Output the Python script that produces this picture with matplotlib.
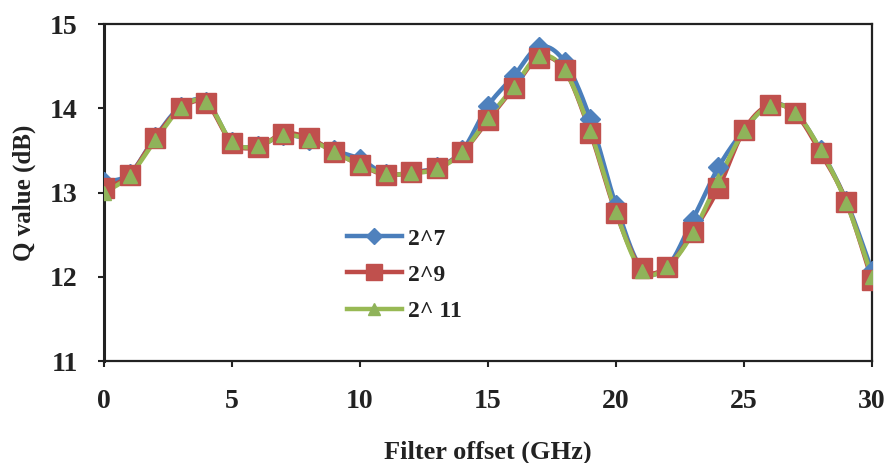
import matplotlib
matplotlib.use('Agg')
import matplotlib.pyplot as plt
from matplotlib.lines import Line2D
import numpy as np

# Filter offset sweep (GHz)
offset = list(range(0, 31))

# Q value (dB) for each bit resolution
q_2_7 = [13.13, 13.22, 13.66, 14.02, 14.08, 13.60, 13.55, 13.68, 13.63, 13.50,
         13.40, 13.22, 13.24, 13.30, 13.50, 14.03, 14.38, 14.73, 14.55, 13.87,
         12.85, 12.10, 12.12, 12.68, 13.30, 13.74, 14.04, 13.95, 13.50, 12.90,
         12.07]
q_2_9 = [13.05, 13.21, 13.65, 14.00, 14.06, 13.59, 13.54, 13.70, 13.65, 13.48,
         13.33, 13.21, 13.24, 13.29, 13.48, 13.86, 14.24, 14.60, 14.45, 13.71,
         12.76, 12.10, 12.12, 12.53, 13.05, 13.74, 14.04, 13.94, 13.47, 12.89,
         11.96]
q_2_11 = [13.00, 13.20, 13.62, 14.00, 14.08, 13.60, 13.55, 13.68, 13.63, 13.48,
          13.33, 13.22, 13.23, 13.28, 13.48, 13.88, 14.25, 14.62, 14.45, 13.73,
          12.77, 12.07, 12.12, 12.52, 13.15, 13.73, 14.03, 13.95, 13.50, 12.88,
          12.00]

labels = ['2^7', '2^9', '2^ 11']
x_ticks = [0, 5, 10, 15, 20, 25, 30]
y_ticks = [11, 12, 13, 14, 15]

FONT = 'Liberation Serif'


def smooth(x, y, n=24):
    """Catmull-Rom style cubic Bezier through every point (spreadsheet 'smoothed line')."""
    pts = np.column_stack([x, y]).astype(float)
    p = np.vstack([pts[0], pts, pts[-1]])
    t = np.linspace(0, 1, n)[:, None]
    out = []
    for i in range(1, len(p) - 2):
        p0, p1, p2, p3 = p[i - 1], p[i], p[i + 1], p[i + 2]
        c1 = p1 + (p2 - p0) / 6
        c2 = p2 - (p3 - p1) / 6
        seg = (1 - t) ** 3 * p1 + 3 * (1 - t) ** 2 * t * c1 + 3 * (1 - t) * t ** 2 * c2 + t ** 3 * p2
        out.append(seg if i == 1 else seg[1:])
    curve = np.vstack(out)
    return curve[:, 0], curve[:, 1]


fig = plt.figure(figsize=(8.85, 4.63), dpi=100)
ax = fig.add_axes([0.1175, 0.22, 0.8678, 0.728])

styles = [
    # line colour, marker colour, marker, marker size
    ('#4A7EBB', '#4F81BD', 'D', 10),
    ('#BE4B48', '#C0504D', 's', 14),
    ('#98B954', '#8FB35A', '^', 10),
]
series = [q_2_7, q_2_9, q_2_11]

handles = []
for values, (lc, mc, mk, ms), label in zip(series, styles, labels):
    sx, sy = smooth(offset, values)
    ax.plot(sx, sy, color=lc, linewidth=3.2, solid_capstyle='round', zorder=2)
    ax.plot(offset, values, linestyle='none', marker=mk, markersize=ms,
            markerfacecolor=mc, markeredgecolor=mc, zorder=3)
    handles.append(Line2D([], [], color=lc, linewidth=3.2, marker=mk,
                          markersize=ms * 0.85, markerfacecolor=mc,
                          markeredgecolor=mc))

ax.set_xlim(0, 30)
ax.set_ylim(11, 15)
ax.set_xticks(x_ticks)
ax.set_yticks(y_ticks)

for side in ['top', 'right', 'bottom']:
    ax.spines[side].set_linewidth(1.6)
    ax.spines[side].set_color('#222222')
ax.spines['left'].set_linewidth(2.2)
ax.spines['left'].set_color('#222222')

ax.tick_params(axis='y', direction='out', length=4, width=1.5, pad=15,
               colors='#222222', labelsize=20)
ax.tick_params(axis='x', direction='out', length=4, width=1.5, pad=16,
               colors='#222222', labelsize=20)
for lbl in ax.get_xticklabels() + ax.get_yticklabels():
    lbl.set_fontfamily(FONT)
    lbl.set_fontweight('bold')

ax.set_xlabel('Filter offset (GHz)', fontsize=19, fontweight='bold',
              family=FONT, color='#222222', va='center')
ax.set_ylabel('Q value (dB)', fontsize=18, fontweight='bold',
              family=FONT, color='#222222', va='center')
ax.xaxis.set_label_coords(0.5, -0.27)
ax.yaxis.set_label_coords(-0.104, 0.5)

leg = ax.legend(handles, labels, loc='upper left', bbox_to_anchor=(0.316, 0.395),
                frameon=False, borderpad=0, borderaxespad=0, handlelength=2.33,
                handletextpad=0.25, labelspacing=0.62,
                prop={'family': FONT, 'weight': 'bold', 'size': 17})
for txt in leg.get_texts():
    txt.set_color('#222222')

fig.savefig('out.png', dpi=100, facecolor='white')
